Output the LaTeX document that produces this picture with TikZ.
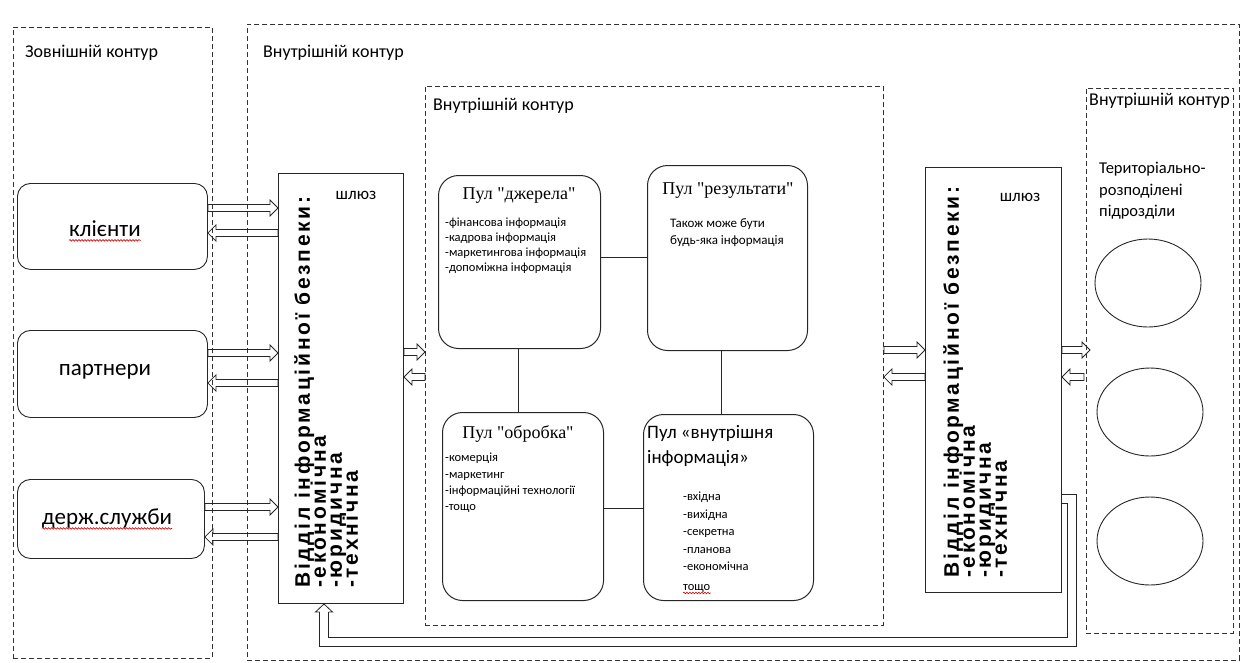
\documentclass[tikz,border=0pt]{standalone}
\usepackage{fontspec}
\setmainfont{Carlito}
\newfontfamily\tnr{Liberation Serif}
\newfontfamily\gwf{Liberation Sans}[LetterSpace=13]
\usetikzlibrary{calc,decorations.pathmorphing,shapes.geometric}
\newcommand\mytightls{\lineskiplimit=-50pt\relax\lineskip=0pt\relax}
\begin{document}
\begin{tikzpicture}[x=1pt,y=-1pt,
  dbox/.style={draw=black!80, dash pattern=on 5pt off 3pt, line width=0.9pt, inner sep=0pt, anchor=north west},
  lbox/.style={draw=black!85, rounded corners=13pt, line width=0.9pt, inner sep=0pt, anchor=north west},
  pbox/.style={draw=black!85, rounded corners=20pt, line width=1pt, inner sep=0pt, anchor=north west},
  gbox/.style={draw=black!85, line width=1pt, inner sep=0pt, anchor=north west},
  cont/.style={font=\fontsize{18}{21}\selectfont, anchor=west, inner sep=0pt},
  lbl/.style={font=\fontsize{23}{26}\selectfont, inner sep=0pt},
  sm/.style={font=\fontsize{17}{20}\selectfont, inner sep=0pt},
  ttl/.style={font=\tnr\fontsize{18}{21}\selectfont, inner sep=0pt},
  itm/.style={font=\fontsize{12.5}{15}\selectfont, inner sep=0pt, anchor=north west, align=left},
  gwt/.style={rotate=90, anchor=north west, inner sep=0pt, align=left,
     font=\gwf\bfseries\fontsize{21}{16}\selectfont\mytightls},
  ln/.style={draw=black!85, line width=0.9pt},
  ell/.style={draw=black!85, line width=0.9pt, ellipse, minimum width=106pt, minimum height=88pt},
  barrow/.style={draw=black!85, line width=0.8pt,
    to path={let \p1=(\tikztostart), \p2=(\tikztotarget), \n1={ifthenelse(\x2>\x1,1,-1)} in
      (\x1,\y1+3.5pt) -- (\x2-\n1*8pt,\y1+3.5pt) -- (\x2-\n1*8pt,\y1+8pt) -- (\x2,\y1)
      -- (\x2-\n1*8pt,\y1-8pt) -- (\x2-\n1*8pt,\y1-3.5pt) -- (\x1,\y1-3.5pt) -- cycle}},
  retl/.style={draw=black!85, line width=0.8pt, double=white, double distance=8.2pt},
  wavy/.style={draw=red!85!black, line width=0.6pt, decorate, decoration={snake, amplitude=0.8pt, segment length=3pt}}
]
\useasboundingbox (0,0) rectangle (1242,662);

% dashed contours
\node[dbox, minimum width=199pt, minimum height=631pt] (outer) at (13,27) {};
\node[dbox, minimum width=992pt, minimum height=636pt] (inner) at (247,24) {};
\node[dbox, minimum width=458pt, minimum height=539pt] (mid) at (425,86) {};
\node[dbox, minimum width=147pt, minimum height=545pt] (rbox) at (1086,88) {};

\node[cont] (lout) at (25,53) {Зовнішній контур};
\node[cont] (linn) at (263,53) {Внутрішній контур};
\node[cont] (lmid) at (433,106) {Внутрішній контур};
\node[cont] (lrb) at (1089,101) {Внутрішній контур};

% external boxes
\node[lbox, minimum width=190pt, minimum height=86pt] (kl) at (17,183) {};
\node[lbox, minimum width=190pt, minimum height=87pt] (pa) at (17,330) {};
\node[lbox, minimum width=187pt, minimum height=79pt] (ds) at (17,479) {};
\node[lbl] (klt) at (105,229) {клієнти};
\node[lbl] (pat) at (105,372) {партнери};
\node[lbl] (dst) at (107,519) {держ.служби};
\draw[wavy] ($(klt.base west)+(0,3.5)$) -- ($(klt.base east)+(0,3.5)$);
\draw[wavy] ($(dst.base west)+(0,3.5)$) -- ($(dst.base east)+(0,3.5)$);

% gateways
\node[gbox, minimum width=125pt, minimum height=430pt] (gw1) at (278,173) {};
\node[gbox, minimum width=136pt, minimum height=425pt] (gw2) at (925,167) {};
\node[sm] (s1) at (356,195) {шлюз};
\node[sm] (s2) at (1020,197) {шлюз};
\node[gwt] (g1t) at (294,588) {Відділ інформаційної безпеки:\\-економічна\\-юридична\\-технічна};
\node[gwt] (g2t) at (943,578) {Відділ інформаційної безпеки:\\-економічна\\-юридична\\-технічна};

% pools
\node[pbox, minimum width=162pt, minimum height=173pt] (dz) at (438,175) {};
\node[pbox, minimum width=160pt, minimum height=185pt] (rz) at (647,165) {};
\node[pbox, minimum width=161pt, minimum height=188pt] (ob) at (442,412) {};
\node[pbox, minimum width=170pt, minimum height=186pt] (vn) at (643,414) {};

\node[ttl] (dzt) at (519,196) {Пул "джерела"};
\node[ttl] (rzt) at (728,191) {Пул "результати"};
\node[ttl] (obt) at (518,434) {Пул "обробка"};
\node[itm] (dzi) at (445,218) {-фінансова інформація\\-кадрова інформація\\-маркетингова інформація\\-допоміжна інформація};
\node[itm, font=\fontsize{13}{17}\selectfont] (rzi) at (670,218) {Також може бути\\будь-яка інформація};
\node[itm, font=\fontsize{12.5}{16.3}\selectfont] (obi) at (445,453) {-комерція\\-маркетинг\\-інформаційні технології\\-тощо};
\node[itm, font=\fontsize{19}{25}\selectfont] (vnt) at (647,425) {Пул «внутрішня\\інформація»};
\node[itm, font=\fontsize{12.5}{17.5}\selectfont] (vni) at (683,492) {-вхідна\\-вихідна\\-секретна\\-планова\\-економічна};
\node[itm, font=\fontsize{12.5}{15}\selectfont, anchor=base west] (vnq) at (683,590) {тощо};
\draw[wavy] ($(vnq.base west)+(0,3)$) -- ($(vnq.base east)+(0,3)$);

\draw[ln] (dz.east |- 0,257) -- (rz.west |- 0,257);
\draw[ln] (dz.south -| 518,0) -- (ob.north -| 518,0);
\draw[ln] (rz.south -| 721,0) -- (vn.north -| 721,0);
\draw[ln] (ob.east |- 0,508) -- (vn.west |- 0,508);

% territorial units
\node[itm, font=\fontsize{16.5}{21.5}\selectfont] (tt) at (1099,162) {Територіально-\\розподілені\\підрозділи};
\node[ell] (e1) at (1148,283) {};
\node[ell] (e2) at (1150,412) {};
\node[ell] (e3) at (1150,541) {};

% block arrows
\draw[barrow] (kl.east |- 0,208) to (gw1.west |- 0,208);
\draw[barrow] (gw1.west |- 0,233) to (kl.east |- 0,233);
\draw[barrow] (pa.east |- 0,353) to (gw1.west |- 0,353);
\draw[barrow] (gw1.west |- 0,383) to (pa.east |- 0,383);
\draw[barrow] (ds.east |- 0,507) to (gw1.west |- 0,507);
\draw[barrow] (gw1.west |- 0,537) to (ds.east |- 0,537);
\draw[barrow] (gw1.east |- 0,352) to (mid.west |- 0,352);
\draw[barrow] (mid.west |- 0,377) to (gw1.east |- 0,377);
\draw[barrow] (mid.east |- 0,350) to (gw2.west |- 0,350);
\draw[barrow] (gw2.west |- 0,377) to (mid.east |- 0,377);
\coordinate (rin) at (1090,350);
\coordinate (rout) at (1084,377);
\draw[barrow] (gw2.east |- 0,350) to (rin);
\draw[barrow] (rout) to (gw2.east |- 0,377);

% return line
\draw[retl] (gw2.east |- 0,499) -| (1072,642) -| ($(gw1.south -| 324,0)+(0,8)$);
\draw[ln, line width=0.8pt] ($(gw1.south -| 324,0)+(-4.5,8)$) -- ++(-4,0) -- (gw1.south -| 324,0) -- ++(8.5,8) -- ++(-4,0);
\end{tikzpicture}
\end{document}
